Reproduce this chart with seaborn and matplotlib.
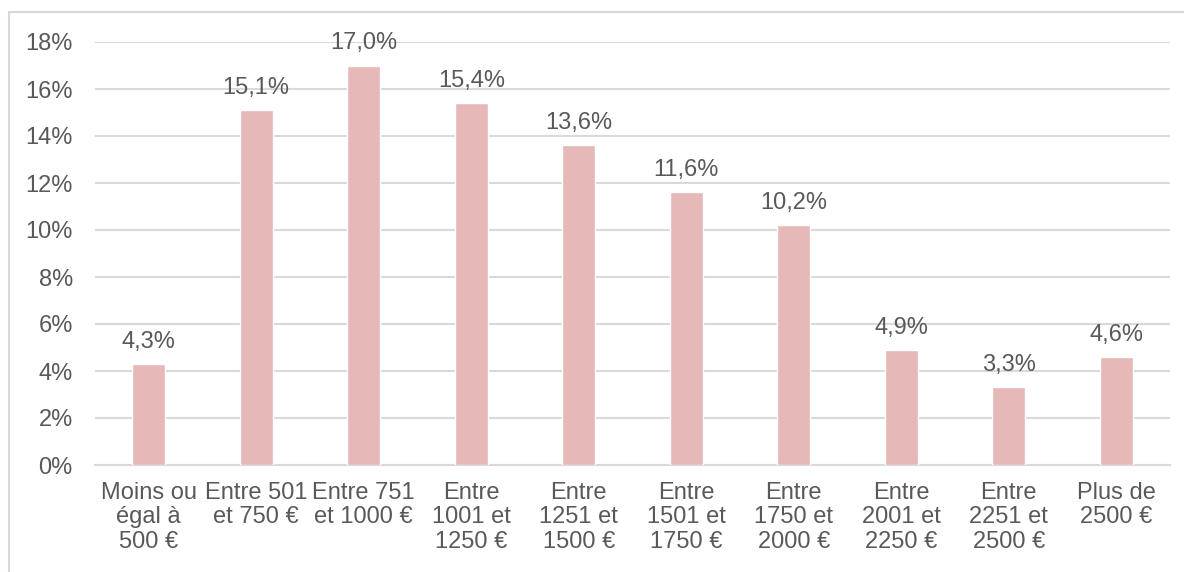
import matplotlib
matplotlib.use("Agg")
import matplotlib.pyplot as plt
from matplotlib.lines import Line2D
import pandas as pd
import seaborn as sns

categories = [
    "Moins ou\négal à\n500 €",
    "Entre 501\net 750 €",
    "Entre 751\net 1000 €",
    "Entre\n1001 et\n1250 €",
    "Entre\n1251 et\n1500 €",
    "Entre\n1501 et\n1750 €",
    "Entre\n1750 et\n2000 €",
    "Entre\n2001 et\n2250 €",
    "Entre\n2251 et\n2500 €",
    "Plus de\n2500 €",
]
values = [4.3, 15.1, 17.0, 15.4, 13.6, 11.6, 10.2, 4.9, 3.3, 4.6]
yticks = [0, 2, 4, 6, 8, 10, 12, 14, 16, 18]

df = pd.DataFrame({"cat": categories, "val": values})

sns.set_style("white")
plt.rcParams['font.family'] = ['Liberation Sans', 'DejaVu Sans']
text_col = "#595959"
grid_col = "#D9D9D9"
fs = 17

fig = plt.figure(figsize=(11.84, 5.72), dpi=100)
ax = fig.add_axes([95 / 1184, 1 - 465 / 572, 1075 / 1184, 423 / 572])

sns.barplot(data=df, x="cat", y="val", color="#E6B8B7", saturation=1,
            width=0.31, ax=ax, zorder=3)

ax.set_ylim(0, 18)
ax.set_xlim(-0.5, len(categories) - 0.5)
ax.set_yticks(yticks)
ax.set_yticklabels([f"{t}%" for t in yticks])
ax.yaxis.grid(True, color=grid_col, linewidth=1.5, zorder=0)
ax.set_axisbelow(True)
for s in ["top", "right", "left"]:
    ax.spines[s].set_visible(False)
ax.spines["bottom"].set_color(grid_col)
ax.spines["bottom"].set_linewidth(1.5)
ax.tick_params(axis="both", length=0, labelsize=fs, colors=text_col)
ax.tick_params(axis="x", pad=12)
ax.tick_params(axis="y", pad=16)
for lab in ax.get_xticklabels():
    lab.set_linespacing(1.15)
ax.set_xlabel("")
ax.set_ylabel("")

ax.bar_label(ax.containers[0],
             labels=[f"{v:.1f}%".replace(".", ",") for v in values],
             padding=8, fontsize=fs, color=text_col)

# light frame on top and left of the chart
fig.add_artist(Line2D([9 / 1184, 9 / 1184], [0, 1 - 12 / 572],
                      transform=fig.transFigure, color=grid_col, linewidth=1.5))
fig.add_artist(Line2D([9 / 1184, 1], [1 - 12 / 572, 1 - 12 / 572],
                      transform=fig.transFigure, color=grid_col, linewidth=1.5))

fig.savefig("out.png", dpi=100)
